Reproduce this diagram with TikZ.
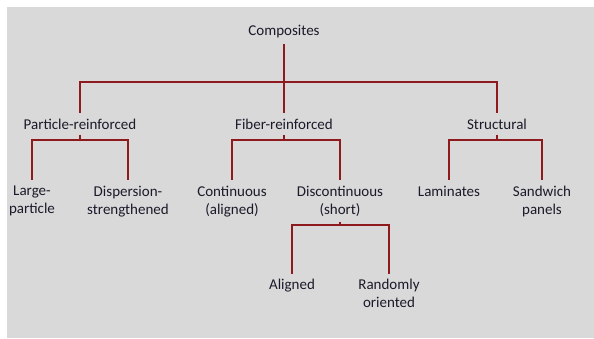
\documentclass[tikz,border=0pt]{standalone}
\usepackage{fontspec}
\setmainfont{Carlito}
\usetikzlibrary{positioning}
\definecolor{MyRed}{HTML}{8E1A1E}
\definecolor{MyGray}{HTML}{D9D9D9}
\definecolor{MyInk}{HTML}{1A1A2A}
\tikzset{every picture/.style={/utils/exec={\fontsize{15pt}{18pt}\selectfont}}}

\begin{document}
\begin{tikzpicture} [
			every node/.style={align=center,rectangle,text=MyInk,inner xsep=2pt,inner ysep=5.5pt},
			link/.style={draw=MyRed,line width=2.6pt}
		]
		\useasboundingbox (0pt,0pt) rectangle (594pt,-338pt);
		\fill [MyGray] (7pt,-7pt) rectangle (594pt,-338pt);

		\node (composites) at (284pt,-32pt) {Composites};

		\node [below=69pt of composites, xshift=-204pt] (particle) {Particle-reinforced};
		\node [below=69pt of composites] (fiber) {Fiber-reinforced};
		\node [below=69pt of composites, xshift=213pt] (structural) {Structural};

		\node [below=45pt of particle, xshift=-48pt] (large) {Large- \\ particle};
		\node [below=45pt of particle, xshift=48pt] (dispersion) {Dispersion- \\ strengthened};
		\node [below=45pt of fiber, xshift=-52pt] (continuous) {Continuous \\ (aligned)};
		\node [below=45pt of fiber, xshift=56pt] (discontinuous) {Discontinuous \\ (short)};
		\node [below=45pt of structural, xshift=-48pt] (laminates) {Laminates};
		\node [below=45pt of structural, xshift=45pt] (sandwich) {Sandwich \\ panels};

		\node [below=52pt of discontinuous, xshift=-48pt] (aligned) {Aligned};
		\node [below=52pt of discontinuous, xshift=49pt] (random) {Randomly \\ oriented};

		\draw [link] (composites) -- ++(0,-50pt) -| (particle);
		\draw [link] (composites) -- ++(0,-50pt) -| (structural);
		\draw [link] (composites) -- (fiber);
		\draw [link] (particle) -- ++(0,-16pt) -| (large);
		\draw [link] (particle) -- ++(0,-16pt) -| (dispersion);
		\draw [link] (fiber) -- ++(0,-16pt) -| (continuous);
		\draw [link] (fiber) -- ++(0,-16pt) -| (discontinuous);
		\draw [link] (structural) -- ++(0,-16pt) -| (laminates);
		\draw [link] (structural) -- ++(0,-16pt) -| (sandwich);
		\draw [link] (discontinuous) -- ++(0,-24pt) -| (aligned);
		\draw [link] (discontinuous) -- ++(0,-24pt) -| (random);
	\end{tikzpicture}
\end{document}
